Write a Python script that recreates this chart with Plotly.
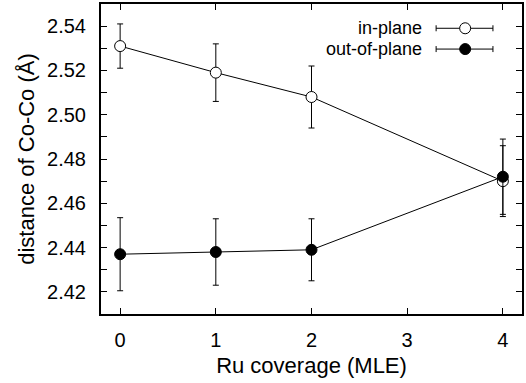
import plotly.graph_objects as go

# Ru coverage (MLE) and Co-Co distances (Å) with uncertainties
coverage = [0, 1, 2, 4]
in_plane = [2.531, 2.519, 2.508, 2.470]
in_plane_err = [0.010, 0.013, 0.014, 0.016]
out_of_plane = [2.437, 2.438, 2.439, 2.472]
out_of_plane_err = [0.0165, 0.015, 0.014, 0.017]
series_names = ["in-plane", "out-of-plane"]

x_ticks = [0, 1, 2, 3, 4]
y_ticks = [2.42, 2.44, 2.46, 2.48, 2.50, 2.52, 2.54]

FONT = "Liberation Sans, Arial, Helvetica, sans-serif"

fig = go.Figure()

err_style = dict(type="data", color="black", thickness=1, width=3)

fig.add_trace(go.Scatter(
    x=coverage, y=in_plane, name=series_names[0], mode="lines+markers",
    line=dict(color="black", width=1),
    marker=dict(symbol="circle", size=11, color="white",
                line=dict(color="black", width=1)),
    error_y=dict(array=in_plane_err, **err_style),
    showlegend=False,
))
fig.add_trace(go.Scatter(
    x=coverage, y=out_of_plane, name=series_names[1], mode="lines+markers",
    line=dict(color="black", width=1),
    marker=dict(symbol="circle", size=11, color="black",
                line=dict(color="black", width=1)),
    error_y=dict(array=out_of_plane_err, **err_style),
    showlegend=False,
))

# Key in the upper-right corner: label, line sample with caps, marker
shapes = []
annotations = []
rows = [(0.9217, "white"), (0.8546, "black")]
x_line0, x_line1, x_mark, x_text = 0.796, 0.931, 0.865, 0.7654
for (yp, fill), name in zip(rows, series_names):
    shapes.append(dict(type="line", xref="paper", yref="paper",
                       x0=x_line0, x1=x_line1, y0=yp, y1=yp,
                       line=dict(color="black", width=1)))
    for xc in (x_line0, x_line1):
        shapes.append(dict(type="line", xref="paper", yref="paper",
                           xsizemode="scaled", ysizemode="pixel",
                           x0=xc, x1=xc, yanchor=yp, y0=-3, y1=3,
                           line=dict(color="black", width=1)))
    shapes.append(dict(type="circle", xref="paper", yref="paper",
                       xsizemode="pixel", ysizemode="pixel",
                       xanchor=x_mark, yanchor=yp, x0=-5.5, x1=5.5, y0=-5.5, y1=5.5,
                       fillcolor=fill, line=dict(color="black", width=1)))
    annotations.append(dict(xref="paper", yref="paper", x=x_text, y=yp,
                            text=name, showarrow=False, xanchor="right",
                            yanchor="middle", borderpad=0,
                            font=dict(family=FONT, size=18, color="black")))

axis_common = dict(
    showline=True, linecolor="black", linewidth=2, mirror="ticks",
    ticks="inside", tickcolor="black", tickwidth=1, ticklen=6,
    showgrid=False, zeroline=False,
    tickfont=dict(family=FONT, size=20, color="black"),
)

fig.update_layout(
    width=526, height=383,
    margin=dict(l=101, r=3, t=2, b=69),
    paper_bgcolor="white", plot_bgcolor="white",
    shapes=shapes, annotations=annotations,
    xaxis=dict(
        range=[-0.2, 4.2], tickvals=x_ticks, ticktext=[str(v) for v in x_ticks],
        title=dict(text="Ru coverage (MLE)", standoff=8,
                   font=dict(family=FONT, size=22, color="black")),
        ticklabelstandoff=7,
        **axis_common,
    ),
    yaxis=dict(
        range=[2.41, 2.55], tickvals=y_ticks,
        ticktext=[f"{v:.2f}" for v in y_ticks],
        minor=dict(dtick=0.01, tick0=2.41, ticks="inside", ticklen=6,
                   tickcolor="black", tickwidth=1, showgrid=False),
        title=dict(text="distance of Co-Co (Å)", standoff=6,
                   font=dict(family=FONT, size=22, color="black")),
        ticklabelstandoff=9,
        **axis_common,
    ),
)

fig.write_html("out.html")
